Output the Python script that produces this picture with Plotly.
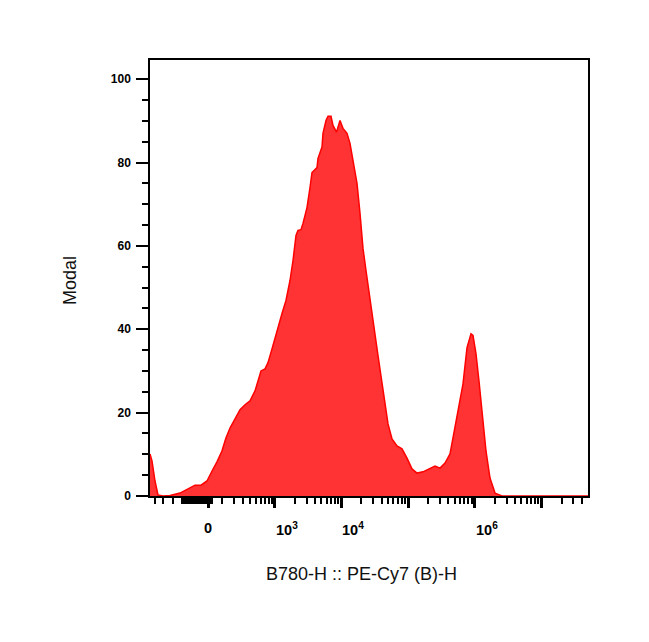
import numpy as np
import plotly.graph_objects as go

# ---- data ----
intensity = [-727, -677, -607, -544, -452, -344, -225, -132, -93, -49, -7, 28, 63, 100, 132,
             167, 215, 269, 331, 403, 487, 544, 607, 702, 781, 900, 1073, 1279, 1470, 1690,
             1876, 2082, 2230, 2474, 2652, 3046, 3380, 3622, 4306, 4457, 5118, 5296, 5876,
             6296, 6985, 7483, 8444, 9529, 10569, 12131, 13456, 14928, 17140, 19012, 21080,
             23380, 26850, 30810, 35390, 40210, 45060, 49980, 57380, 68190, 81050, 96320,
             114480, 136000, 167300, 213000, 253200, 300900, 357600, 425000, 471300, 560200,
             665700, 764200, 877300, 940000, 1042600, 1156000, 1327000, 1472000, 1690000,
             2009000, 2558000, 49800000]
modal = [10.1, 8.4, 3.6, 0.24, 0, 0.1, 0.7, 1.9, 2.6, 2.6, 3.6, 6.0, 8.2, 10.8, 13.9,
         16.3, 18.5, 20.7, 21.9, 22.8, 25.2, 27.6, 30.0, 30.5, 32.0, 35.3, 39.7, 43.8, 46.9, 51.7,
         56.5, 62.5, 63.7, 63.9, 65.4, 69.2, 74.0, 77.6, 78.8, 81.0, 83.7, 87.0, 90.1,
         91.1, 91.1, 88.9, 87.3, 90.1, 88.2, 87.0, 84.6, 80.5, 75.0, 67.8, 59.4,
         54.1, 46.9, 39.7, 33.7, 27.6, 22.1, 17.3, 13.7, 12.0, 11.3, 9.1,
         6.5, 5.5, 5.8, 6.7, 7.2, 6.7, 7.9, 10.1, 13.9, 20.4,
         26.9, 35.6, 38.9, 38.5, 34.1, 27.6, 18.8, 10.8, 4.3,
         0.7, 0, 0]

x_major_vals = [0, 1e3, 1e4, 1e5, 1e6, 1e7]
x_label_vals = [0, 1e3, 1e4, 1e6]
x_label_text = ["0", "10<sup>3</sup>", "10<sup>4</sup>", "10<sup>6</sup>"]
y_tick_vals = [0, 20, 40, 60, 80, 100]
x_title = "B780-H :: PE-Cy7 (B)-H"
y_title = "Modal"
x_limits = [-727, 4.98e7]
y_limits = [0, 104.6]

# ---- biexponential (arcsinh) display transform ----
def T(v):
    return np.arcsinh(np.asarray(v, dtype=float) / 200.0) / np.log(10)

minor_vals = [-600, -450, -300] + [v for v in range(-200, 40, 10) if v != 0] \
    + list(range(100, 1000, 100))
for d in range(3, 8):
    for k in range(2, 10):
        if k * 10 ** d < x_limits[1]:
            minor_vals.append(k * 10 ** d)

FONT = "Liberation Sans, Arial, sans-serif"

fig = go.Figure()
fig.add_trace(go.Scatter(
    x=T(intensity), y=modal, mode="lines", fill="tozeroy",
    line=dict(color="rgb(255,0,0)", width=1.5),
    fillcolor="rgb(255,51,51)", hoverinfo="skip", showlegend=False))

fig.update_xaxes(
    range=[float(T(x_limits[0])), float(T(x_limits[1]))],
    showline=True, mirror=True, linecolor="black", linewidth=1.5,
    showgrid=False, zeroline=False,
    tickmode="array", tickvals=list(T(x_major_vals)), showticklabels=False,
    ticks="outside", ticklen=10, tickwidth=2.5, tickcolor="black",
    minor=dict(tickmode="array", tickvals=list(T(minor_vals)), ticks="outside",
               ticklen=6, tickwidth=1.5, tickcolor="black", showgrid=False),
)
fig.update_yaxes(
    range=y_limits,
    showline=True, mirror=True, linecolor="black", linewidth=1.5,
    showgrid=False, zeroline=False,
    tickmode="array", tickvals=y_tick_vals,
    ticks="outside", ticklen=12, tickwidth=2, tickcolor="black",
    ticklabelstandoff=3,
    tickfont=dict(family=FONT, size=12, color="black", weight="bold"),
    minor=dict(dtick=5, tick0=0, ticks="outside", ticklen=6, tickwidth=1.5,
               tickcolor="black", showgrid=False),
)

annotations = []
for v, t in zip(x_label_vals, x_label_text):
    annotations.append(dict(
        x=float(T(v)), y=-0.05, xref="x", yref="paper", text=t, showarrow=False,
        xanchor="center" if v == 0 else "left", yanchor="top",
        xshift=0 if v == 0 else -1,
        font=dict(family=FONT, size=14.5, color="black", weight="bold")))
annotations.append(dict(
    x=0.484, y=-0.18, xref="paper", yref="paper", text=x_title, showarrow=False,
    xanchor="center", yanchor="middle",
    font=dict(family=FONT, size=18, color="#111111")))
annotations.append(dict(
    x=-0.183, y=0.495, xref="paper", yref="paper", text=y_title, showarrow=False,
    xanchor="center", yanchor="middle", textangle=-90,
    font=dict(family=FONT, size=18, color="#111111")))

fig.update_layout(
    width=641, height=634,
    margin=dict(l=142, r=61, t=52, b=146),
    paper_bgcolor="white", plot_bgcolor="white",
    annotations=annotations,
)

fig.write_html("out.html")
